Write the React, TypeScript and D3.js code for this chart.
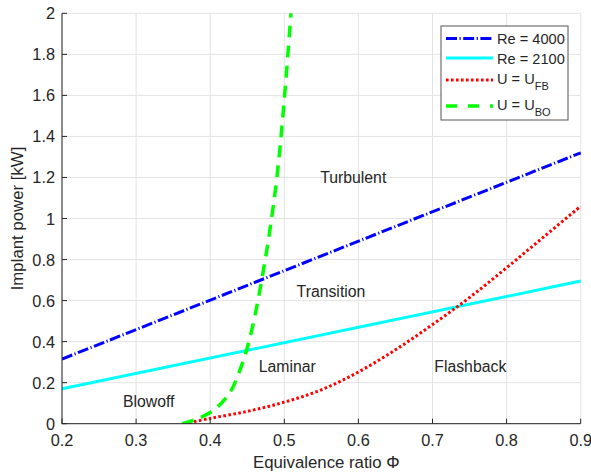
import React from "react";
import * as d3 from "d3";

// Reynolds-number limits (straight lines in Φ)
const rePhi = [0.2, 0.9];
const re4000 = [0.315, 1.32];
const re2100 = [0.17, 0.695];

// Flashback limit U = U_FB
const fbPhi = [0.365, 0.4, 0.45, 0.5, 0.55, 0.6, 0.65, 0.7, 0.75, 0.8, 0.85, 0.9];
const fbPower = [0, 0.026, 0.06, 0.105, 0.165, 0.252, 0.36, 0.483, 0.615, 0.76, 0.91, 1.06];

// Blowoff limit U = U_BO
const boPhi = [0.362, 0.38, 0.4, 0.415, 0.428, 0.44, 0.45, 0.46, 0.47, 0.48, 0.49, 0.5, 0.509];
const boPower = [0, 0.02, 0.055, 0.1, 0.16, 0.26, 0.37, 0.52, 0.71, 0.93, 1.2, 1.58, 2.0];

const xTicks = [0.2, 0.3, 0.4, 0.5, 0.6, 0.7, 0.8, 0.9];
const yTicks = [0, 0.2, 0.4, 0.6, 0.8, 1, 1.2, 1.4, 1.6, 1.8, 2];

const regionLabels = ["Turbulent", "Transition", "Laminar", "Flashback", "Blowoff"];
const regionPhi = [0.593, 0.563, 0.504, 0.751, 0.317];
const regionPower = [1.2, 0.645, 0.28, 0.28, 0.11];

const W = 591;
const H = 475;
const left = 62;
const right = 580.7;
const top = 13.3;
const bottom = 423.7;

const font = "'Liberation Sans', Arial, Helvetica, sans-serif";
const ink = "#262626";

export default function App() {
  const x = d3.scaleLinear().domain([0.2, 0.9]).range([left, right]);
  const y = d3.scaleLinear().domain([0, 2]).range([bottom, top]);

  const straight = d3
    .line<[number, number]>()
    .x((d) => x(d[0]))
    .y((d) => y(d[1]));
  const smooth = d3
    .line<[number, number]>()
    .x((d) => x(d[0]))
    .y((d) => y(d[1]))
    .curve(d3.curveCatmullRom.alpha(0.5));

  const zip = (a: number[], b: number[]) => a.map((v, i) => [v, b[i]] as [number, number]);

  const blueDash = "11,2.5,1.2,2.5";

  const series = [
    { key: "re4000", d: straight(zip(rePhi, re4000)), color: "#0000ff", width: 3, dash: blueDash },
    { key: "re2100", d: straight(zip(rePhi, re2100)), color: "#00ffff", width: 3, dash: undefined },
    { key: "fb", d: smooth(zip(fbPhi, fbPower)), color: "#ff0000", width: 3, dash: "2.6,2.4" },
    { key: "bo", d: smooth(zip(boPhi, boPower)), color: "#00ff00", width: 3.5, dash: "12,8" },
  ];

  const legendRows = [
    { color: "#0000ff", width: 3, dash: blueDash, main: "Re = 4000", sub: "", ly: 38.5, ty: 44 },
    { color: "#00ffff", width: 3, dash: undefined, main: "Re = 2100", sub: "", ly: 58, ty: 63.5 },
    { color: "#ff0000", width: 3, dash: "2.6,2.4", main: "U = U", sub: "FB", ly: 80, ty: 84 },
    { color: "#00ff00", width: 3.5, dash: "11,11", main: "U = U", sub: "BO", ly: 106, ty: 110 },
  ];

  return (
    <svg
      width={W}
      height={H}
      style={{ position: "absolute", left: 0, top: 0, background: "#fff" }}
      fontFamily={font}
    >
      <rect x={0} y={0} width={W} height={H} fill="#fff" />
      {/* grid */}
      <g stroke="#e3e3e3" strokeWidth={1}>
        {xTicks.map((t) => (
          <line key={"gx" + t} x1={x(t)} x2={x(t)} y1={top} y2={bottom} />
        ))}
        {yTicks.map((t) => (
          <line key={"gy" + t} x1={left} x2={right} y1={y(t)} y2={y(t)} />
        ))}
      </g>

      {/* data lines */}
      <defs>
        <clipPath id="plotArea">
          <rect x={left} y={top - 2} width={right - left + 2} height={bottom - top + 2} />
        </clipPath>
      </defs>
      <g clipPath="url(#plotArea)" fill="none">
        {series.map((s) => (
          <path
            key={s.key}
            d={s.d || ""}
            stroke={s.color}
            strokeWidth={s.width}
            strokeDasharray={s.dash}
          />
        ))}
      </g>

      {/* axes */}
      <g stroke={ink} strokeWidth={1}>
        <line x1={left} x2={left} y1={top} y2={bottom + 0.5} />
        <line x1={left} x2={right} y1={bottom} y2={bottom} />
        {xTicks.map((t) => (
          <line key={"tx" + t} x1={x(t)} x2={x(t)} y1={bottom} y2={bottom - 5} />
        ))}
        {yTicks.map((t) => (
          <line key={"ty" + t} x1={left} x2={left + 5} y1={y(t)} y2={y(t)} />
        ))}
      </g>

      {/* tick labels */}
      <g fill={ink} fontSize={16.3}>
        {xTicks.map((t) => (
          <text key={"lx" + t} x={x(t)} y={bottom + 22} textAnchor="middle">
            {d3.format("")(t)}
          </text>
        ))}
        {yTicks.map((t) => (
          <text key={"ly" + t} x={left - 7} y={y(t) + 6} textAnchor="end">
            {d3.format("")(t)}
          </text>
        ))}
      </g>

      {/* axis titles */}
      <text x={(left + right) / 2 + 5} y={468} textAnchor="middle" fill={ink} fontSize={16.8}>
        Equivalence ratio Φ
      </text>
      <text
        transform={`translate(23,${(top + bottom) / 2}) rotate(-90)`}
        textAnchor="middle"
        fill={ink}
        fontSize={16.8}
      >
        Implant power [kW]
      </text>

      {/* region labels */}
      <g fill={ink} fontSize={15.8} textAnchor="middle">
        {regionLabels.map((l, i) => (
          <text key={l} x={x(regionPhi[i])} y={y(regionPower[i]) + 5.5}>
            {l}
          </text>
        ))}
      </g>

      {/* legend */}
      <g>
        <rect x={441} y={26} width={127} height={94} fill="#fff" stroke="#555" strokeWidth={1} />
        {legendRows.map((r, i) => (
          <g key={"leg" + i}>
            <line
              x1={446}
              x2={493}
              y1={r.ly}
              y2={r.ly}
              stroke={r.color}
              strokeWidth={r.width}
              strokeDasharray={r.dash}
            />
            <text x={497} y={r.ty} fill={ink} fontSize={14.6}>
              {r.main}
              {r.sub ? (
                <tspan fontSize={11} dy={5.5}>
                  {r.sub}
                </tspan>
              ) : null}
            </text>
          </g>
        ))}
      </g>
    </svg>
  );
}
